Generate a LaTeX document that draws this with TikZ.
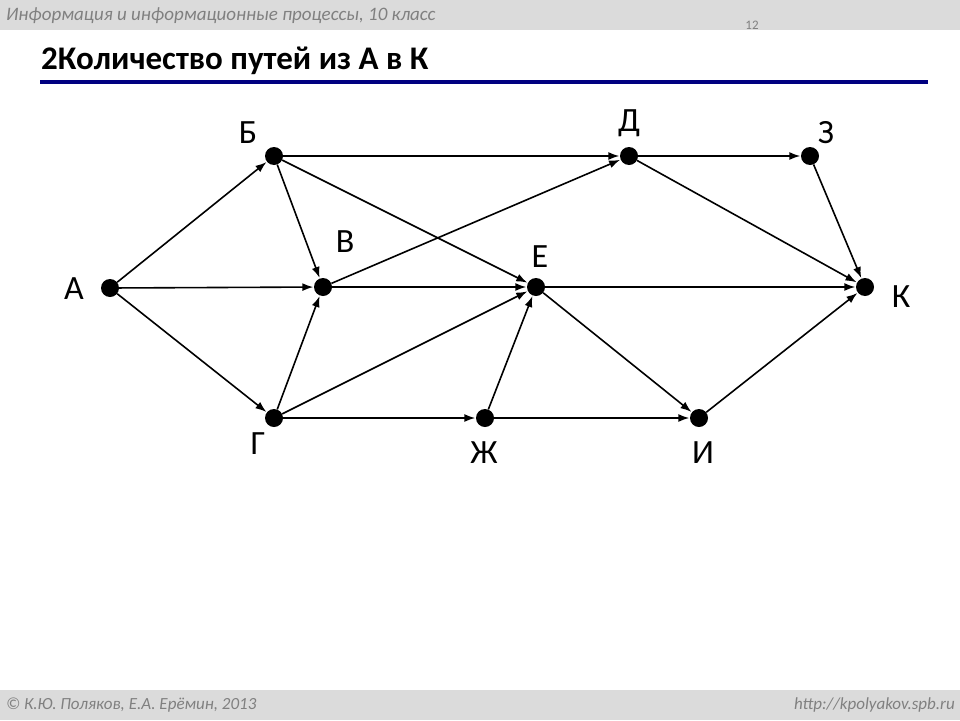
\documentclass[tikz,border=0pt]{standalone}
\usepackage{fontspec}
\setmainfont{Carlito}
\usetikzlibrary{arrows.meta}
\begin{document}
\begin{tikzpicture}[x=1pt,y=-1pt,
  vtx/.style={circle,fill=black,inner sep=0pt,minimum size=18pt},
  lbl/.style={font=\fontsize{34}{36}\selectfont,inner sep=0pt},
  edge/.style={line width=1.6pt,-{Latex[length=11pt,width=8pt]},shorten >=0.5pt}]
\useasboundingbox (0,0) rectangle (960,720);
\fill[gray!28] (0,0) rectangle (960,30);
\fill[gray!28] (0,690) rectangle (960,720);
\node[anchor=west,inner sep=0pt,text=gray,font=\fontsize{19}{21}\itshape] (hdr) at (6,16) {Информация и информационные процессы, 10 класс};
\node[inner sep=0pt,text=gray,font=\fontsize{13}{15}\selectfont] (pg) at (752,25) {12};
\node[anchor=west,inner sep=0pt,font=\fontsize{33}{36}\bfseries] (title) at (41,61) {2Количество путей из А в К};
\draw[line width=3.5pt,color={rgb,255:red,0;green,0;blue,128}] (40,82) -- (928,82);
\node[anchor=west,inner sep=0pt,text=gray,font=\fontsize{17}{19}\itshape] (ftl) at (6,705) {© К.Ю. Поляков, Е.А. Ерёмин, 2013};
\node[anchor=east,inner sep=0pt,text=gray,font=\fontsize{17}{19}\itshape] (ftr) at (955,705) {http://kpolyakov.spb.ru};

\node[vtx] (A) at (110,288) {};
\node[vtx] (B) at (274,156) {};
\node[vtx] (V) at (323,287) {};
\node[vtx] (G) at (274,418) {};
\node[vtx] (D) at (629,156) {};
\node[vtx] (Z) at (810,156) {};
\node[vtx] (E) at (536,287) {};
\node[vtx] (Zh) at (485,418) {};
\node[vtx] (I) at (699,418) {};
\node[vtx] (K) at (865,287) {};

\node[lbl] (lA) at (74,289) {А};
\node[lbl] (lB) at (248,133) {Б};
\node[lbl] (lV) at (345,242) {В};
\node[lbl] (lG) at (258,444) {Г};
\node[lbl] (lD) at (629,123) {Д};
\node[lbl] (lZ) at (826,133) {З};
\node[lbl] (lE) at (540,257) {Е};
\node[lbl] (lZh) at (484,453) {Ж};
\node[lbl] (lI) at (703,453) {И};
\node[lbl] (lK) at (901,297) {К};

\foreach \s/\t in {A/B,A/V,A/G,B/D,B/V,B/E,V/D,V/E,G/V,G/E,G/Zh,Zh/E,Zh/I,E/K,E/I,D/Z,D/K,Z/K,I/K}
  \draw[edge] (\s) -- (\t);
\end{tikzpicture}
\end{document}
